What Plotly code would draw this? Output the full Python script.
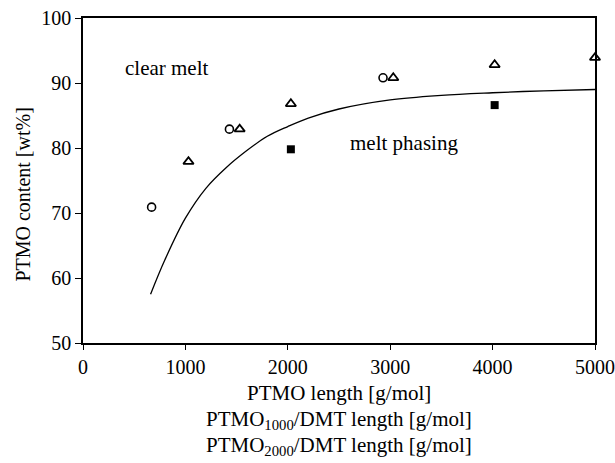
import plotly.graph_objects as go

# PTMO homopolymer (open circles)
circle_x = [670, 1430, 2930]
circle_y = [70.9, 82.9, 90.8]
# PTMO/DMT (open triangles)
tri_x = [1030, 1530, 2030, 3030, 4020, 5000]
tri_y = [77.9, 82.9, 86.8, 90.8, 92.8, 93.9]
# melt phasing (filled squares)
sq_x = [2030, 4020]
sq_y = [79.8, 86.6]
# boundary curve
curve_x = [660, 800, 1000, 1200, 1400, 1600, 1800, 2000, 2200, 2500, 3000, 3500, 4000, 4500, 5000]
curve_y = [57.5, 62.8, 69.2, 73.8, 77.0, 79.6, 81.8, 83.3, 84.6, 86.0, 87.4, 88.1, 88.5, 88.8, 89.0]

xticks = [0, 1000, 2000, 3000, 4000, 5000]
yticks = [50, 60, 70, 80, 90, 100]

font = "Liberation Serif, Times New Roman, serif"

fig = go.Figure()
fig.add_trace(go.Scatter(x=curve_x, y=curve_y, mode="lines",
                         line=dict(color="black", width=1.3, shape="spline"),
                         showlegend=False))
fig.add_trace(go.Scatter(x=circle_x, y=circle_y, mode="markers",
                         marker=dict(symbol="circle-open", size=8, color="black",
                                     line=dict(width=1.6, color="black")),
                         showlegend=False, cliponaxis=False))
fig.add_trace(go.Scatter(x=tri_x, y=tri_y, mode="markers",
                         marker=dict(symbol="triangle-up-open", size=9, color="black",
                                     line=dict(width=1.8, color="black")),
                         showlegend=False, cliponaxis=False))
fig.add_trace(go.Scatter(x=sq_x, y=sq_y, mode="markers",
                         marker=dict(symbol="square", size=8, color="black"),
                         showlegend=False, cliponaxis=False))

fig.add_annotation(x=820, y=92.3, text="clear melt", showarrow=False,
                   font=dict(family=font, size=21, color="black"))
fig.add_annotation(x=3130, y=80.7, text="melt phasing", showarrow=False,
                   font=dict(family=font, size=21, color="black"))

# x-axis title lines
titles = ["PTMO length [g/mol]",
          "PTMO<sub>1000</sub>/DMT length [g/mol]",
          "PTMO<sub>2000</sub>/DMT length [g/mol]"]
for i, t in enumerate(titles):
    fig.add_annotation(x=0.5, xref="paper", y=0, yref="paper", yanchor="middle",
                       yshift=-50 - 26.5 * i, text=t, showarrow=False,
                       font=dict(family=font, size=21, color="black"))

# y-axis title
fig.add_annotation(x=-0.117, xref="paper", y=0.457, yref="paper", textangle=-90,
                   xanchor="center", yanchor="middle", text="PTMO content [wt%]",
                   showarrow=False, font=dict(family=font, size=20, color="black"))

fig.update_xaxes(range=[0, 5000], tickvals=xticks, ticks="outside", ticklen=5,
                 tickwidth=1.3, tickcolor="black", showline=True, linecolor="black",
                 linewidth=1.5, mirror=True, showgrid=False, zeroline=False,
                 ticklabeloverflow="allow", automargin=False,
                 tickfont=dict(family=font, size=20, color="black"))
fig.update_yaxes(range=[50, 100], tickvals=yticks, ticks="outside", ticklen=6,
                 tickwidth=1.3, tickcolor="black", showline=True, linecolor="black",
                 linewidth=1.5, mirror=True, showgrid=False, zeroline=False,
                 ticklabeloverflow="allow", automargin=False,
                 tickfont=dict(family=font, size=20, color="black"))

fig.update_layout(width=615, height=463, margin=dict(l=83, r=20, t=18, b=120),
                  paper_bgcolor="white", plot_bgcolor="white",
                  font=dict(family=font, color="black"))

fig.write_html("out.html")
